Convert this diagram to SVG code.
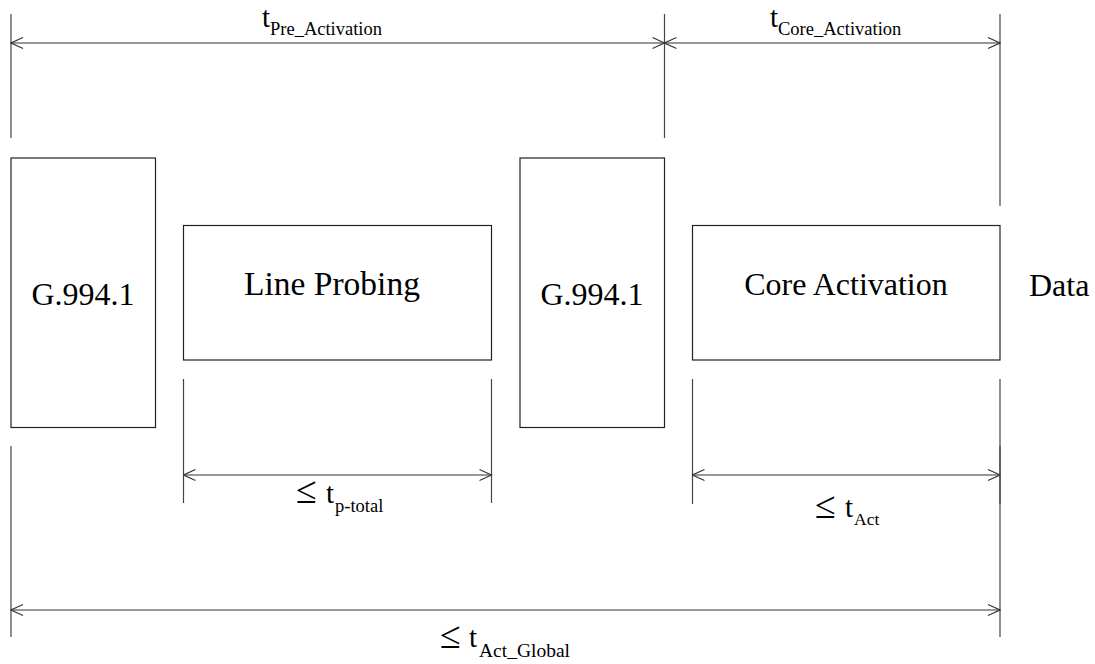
<svg xmlns="http://www.w3.org/2000/svg" width="1095" height="664" viewBox="0 0 1095 664">
<defs>
<marker id="arr" viewBox="0 -7 14 14" refX="13" refY="0" markerWidth="14" markerHeight="14" markerUnits="userSpaceOnUse" orient="auto-start-reverse">
<path d="M1,-5.5 L13,0 L1,5.5" fill="none" stroke="#333" stroke-width="1.1"/>
</marker>
<style>
.box{fill:#fff;stroke:#222;stroke-width:1.2}
.ext{stroke:#444;stroke-width:1.2;fill:none}
.dim{stroke:#333;stroke-width:1.2;fill:none;marker-start:url(#arr);marker-end:url(#arr)}
text{font-family:'Liberation Serif','Times New Roman',Times,serif;fill:#000}
.lbl{font-size:32px}
.t{font-size:29px}
.sub{font-size:18.5px}
.le{font-size:38px}
</style>
</defs>
<rect width="1095" height="664" fill="#fff"/>

<g id="n-g9941-a"><rect class="box" x="11" y="158" width="144.5" height="269.5"/><text class="lbl" x="83" y="305" text-anchor="middle">G.994.1</text></g>
<g id="n-lineprobing"><rect class="box" x="183.5" y="225.5" width="308" height="134.5"/><text class="lbl" x="332" y="295" text-anchor="middle" style="font-size:33.5px">Line Probing</text></g>
<g id="n-g9941-b"><rect class="box" x="520" y="158" width="144.5" height="269.5"/><text class="lbl" x="592" y="305" text-anchor="middle">G.994.1</text></g>
<g id="n-coreact"><rect class="box" x="692.5" y="225.5" width="307.5" height="134.5"/><text class="lbl" x="846" y="295" text-anchor="middle">Core Activation</text></g>
<g id="n-data"><text class="lbl" x="1029" y="296">Data</text></g>

<g id="connectors">
<line class="ext" x1="11" y1="14" x2="11" y2="138"/>
<line class="ext" x1="664.5" y1="14" x2="664.5" y2="138"/>
<line class="ext" x1="1000" y1="14" x2="1000" y2="206"/>
<line class="dim" x1="11" y1="43" x2="664.5" y2="43"/>
<line class="dim" x1="664.5" y1="43" x2="1000" y2="43"/>

<line class="ext" x1="183.5" y1="379" x2="183.5" y2="503"/>
<line class="ext" x1="491.5" y1="379" x2="491.5" y2="503"/>
<line class="dim" x1="183.5" y1="475" x2="491.5" y2="475"/>

<line class="ext" x1="692.5" y1="379" x2="692.5" y2="504"/>
<line class="ext" x1="1000" y1="379" x2="1000" y2="504"/>
<line class="dim" x1="692.5" y1="475" x2="1000" y2="475"/>

<line class="ext" x1="11" y1="446" x2="11" y2="637"/>
<line class="ext" x1="1000" y1="446" x2="1000" y2="637"/>
<line class="dim" x1="11" y1="610" x2="1000" y2="610"/>
</g>

<g id="labels">
<text><tspan class="t" x="262" y="27">t</tspan><tspan class="sub" x="270" y="35">Pre_Activation</tspan></text>
<text><tspan class="t" x="770" y="27">t</tspan><tspan class="sub" x="778" y="35">Core_Activation</tspan></text>
<text><tspan class="le" x="296" y="503">≤</tspan><tspan class="t" x="326" y="503">t</tspan><tspan class="sub" x="335" y="512">p-total</tspan></text>
<text><tspan class="le" x="815" y="518">≤</tspan><tspan class="t" x="845" y="517">t</tspan><tspan class="sub" x="854" y="525" style="font-size:17.5px">Act</tspan></text>
<text><tspan class="le" x="440" y="648">≤</tspan><tspan class="t" x="469" y="647">t</tspan><tspan class="sub" x="479" y="657" style="font-size:19.5px">Act_Global</tspan></text>
</g>
</svg>
